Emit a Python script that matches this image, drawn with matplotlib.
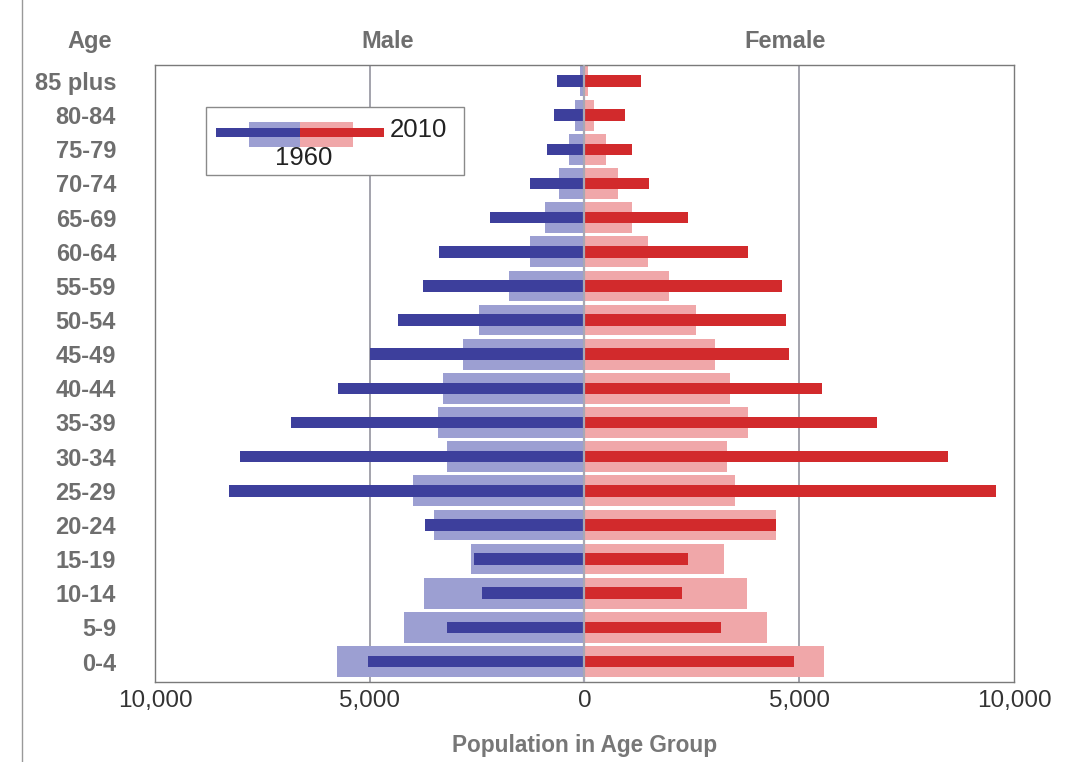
import matplotlib.pyplot as plt
from matplotlib.patches import Rectangle
from matplotlib.lines import Line2D
import numpy as np

ages = ['0-4', '5-9', '10-14', '15-19', '20-24', '25-29', '30-34', '35-39', '40-44',
        '45-49', '50-54', '55-59', '60-64', '65-69', '70-74', '75-79', '80-84', '85 plus']
male_1960 = [5770, 4200, 3740, 2640, 3500, 4000, 3190, 3400, 3290, 2830, 2450, 1760, 1260, 910, 600, 360, 220, 100]
male_2010 = [5050, 3190, 2390, 2580, 3720, 8280, 8010, 6840, 5740, 4990, 4350, 3750, 3390, 2210, 1280, 880, 700, 630]
female_1960 = [5580, 4260, 3780, 3240, 4450, 3500, 3310, 3810, 3380, 3040, 2600, 1970, 1480, 1100, 780, 490, 230, 80]
female_2010 = [4890, 3190, 2260, 2410, 4450, 9580, 8470, 6800, 5520, 4760, 4700, 4590, 3810, 2400, 1510, 1100, 950, 1310]
xticks = [-10000, -5000, 0, 5000, 10000]
xticklabels = ['10,000', '5,000', '0', '5,000', '10,000']

dark_blue = '#3d3f9c'
light_blue = '#9c9fd2'
dark_red = '#d22a2c'
light_red = '#f0a7a9'
grey_txt = '#6e6e6e'

plt.rcParams['font.family'] = ['Liberation Sans', 'DejaVu Sans']

fig = plt.figure(figsize=(10.87, 7.62), dpi=100)
ax = fig.add_axes([0.1426, 0.105, 0.7902, 0.8097])

y = np.arange(len(ages))
ax.barh(y, -np.array(male_1960), height=0.9, color=light_blue, zorder=2)
ax.barh(y, female_1960, height=0.9, color=light_red, zorder=2)
ax.barh(y, -np.array(male_2010), height=0.34, color=dark_blue, zorder=3)
ax.barh(y, female_2010, height=0.34, color=dark_red, zorder=3)

for gx in [-5000, 5000]:
    ax.axvline(gx, color='#8a8a96', lw=1.1, zorder=1)
ax.axvline(0, color='#a8a8b4', lw=1.6, zorder=4)

ax.set_xlim(-10000, 10000)
ax.set_ylim(-0.6, 17.47)
ax.set_xticks(xticks)
ax.set_xticklabels(xticklabels, fontsize=17.5, color='#333333')
ax.set_yticks(y)
ax.set_yticklabels(ages, fontsize=17, color=grey_txt, fontweight='bold')
ax.tick_params(axis='y', length=0, pad=28)
ax.tick_params(axis='x', length=0, pad=6)
for s in ax.spines.values():
    s.set_color('#7a7a7a')
    s.set_linewidth(1.0)

# legend drawn by hand
t = ax.transAxes
ax.add_patch(Rectangle((0.0594, 0.8217), 0.3003, 0.1103, transform=t,
                       facecolor='white', edgecolor='#8a8a8a', lw=1, zorder=5))
ax.add_patch(Rectangle((0.1094, 0.8676), 0.0594, 0.0405, transform=t,
                       facecolor=light_blue, edgecolor='none', zorder=6))
ax.add_patch(Rectangle((0.1688, 0.8676), 0.0617, 0.0405, transform=t,
                       facecolor=light_red, edgecolor='none', zorder=6))
ax.add_patch(Rectangle((0.071, 0.8833), 0.0978, 0.0146, transform=t,
                       facecolor=dark_blue, edgecolor='none', zorder=7))
ax.add_patch(Rectangle((0.1688, 0.8833), 0.0978, 0.0146, transform=t,
                       facecolor=dark_red, edgecolor='none', zorder=7))
ax.text(0.2736, 0.8947, '2010', transform=t, fontsize=18.5, color='#222222',
        va='center', ha='left', zorder=8)
ax.text(0.1735, 0.8493, '1960', transform=t, fontsize=18.5, color='#222222',
        va='center', ha='center', zorder=8)

fig.text(0.0828, 0.945, 'Age', fontsize=17, color=grey_txt, fontweight='bold', ha='center', va='center')
fig.text(0.357, 0.945, 'Male', fontsize=17, color=grey_txt, fontweight='bold', ha='center', va='center')
fig.text(0.722, 0.945, 'Female', fontsize=17, color=grey_txt, fontweight='bold', ha='center', va='center')
fig.text(0.538, 0.022, 'Population in Age Group', fontsize=16.3, color='#777777',
         fontweight='bold', ha='center', va='center')

fig.add_artist(Line2D([0.02, 0.02], [0.0, 1.0], transform=fig.transFigure, color='#999999', lw=1))

fig.savefig('out.png', dpi=100)
